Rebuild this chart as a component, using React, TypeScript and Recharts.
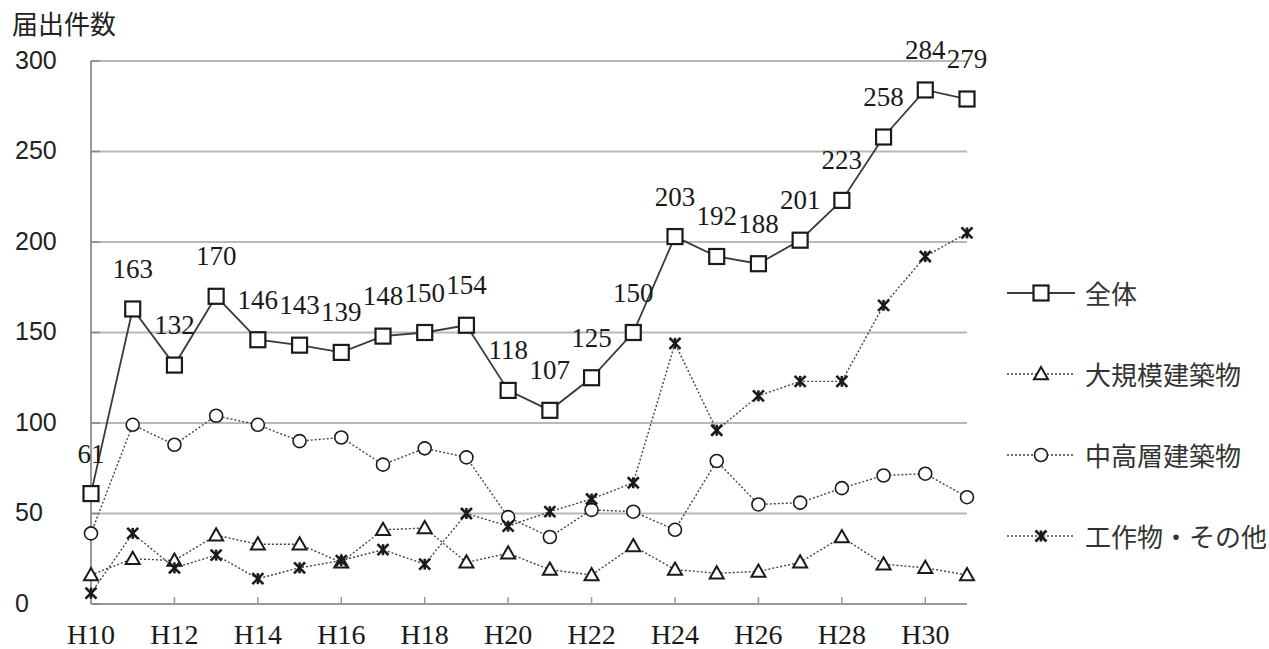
import { LineChart, Line, XAxis, YAxis, CartesianGrid, LabelList } from 'recharts'

const years = [
  'H10', 'H11', 'H12', 'H13', 'H14', 'H15', 'H16', 'H17', 'H18', 'H19', 'H20',
  'H21', 'H22', 'H23', 'H24', 'H25', 'H26', 'H27', 'H28', 'H29', 'H30', 'H31',
]
// 全体
const total = [61, 163, 132, 170, 146, 143, 139, 148, 150, 154, 118, 107, 125, 150, 203, 192, 188, 201, 223, 258, 284, 279]
// 大規模建築物
const large = [16, 25, 24, 38, 33, 33, 23, 41, 42, 23, 28, 19, 16, 32, 19, 17, 18, 23, 37, 22, 20, 16]
// 中高層建築物
const mid = [39, 99, 88, 104, 99, 90, 92, 77, 86, 81, 48, 37, 52, 51, 41, 79, 55, 56, 64, 71, 72, 59]
// 工作物・その他
const other = [6, 39, 20, 27, 14, 20, 24, 30, 22, 50, 43, 51, 58, 67, 144, 96, 115, 123, 123, 165, 192, 205]
const yTicks = [0, 50, 100, 150, 200, 250, 300]

const data = years.map((year, i) => ({
  year,
  total: total[i],
  large: large[i],
  mid: mid[i],
  other: other[i],
}))

const SERIF = '"Liberation Serif", "DejaVu Serif", serif'
const SANS_NUM = '"Liberation Sans", Arial, sans-serif'
const SANS = '"Noto Sans CJK JP", "Noto Sans", sans-serif'
const INK = '#1a1a1a'
const LINE = '#3a3a3a'
const DOTTED = '#444'

function SquareDot({ cx, cy }: any) {
  if (cx == null || cy == null) return null
  return <rect x={cx - 7.5} y={cy - 7.5} width={15} height={15} fill="#fff" stroke={INK} strokeWidth={2.2} />
}

function TriangleDot({ cx, cy }: any) {
  if (cx == null || cy == null) return null
  const s = 7
  return (
    <path
      d={`M${cx},${cy - s} L${cx + s},${cy + s * 0.75} L${cx - s},${cy + s * 0.75} Z`}
      fill="#fff"
      stroke={INK}
      strokeWidth={2}
    />
  )
}

function CircleDot({ cx, cy }: any) {
  if (cx == null || cy == null) return null
  return <circle cx={cx} cy={cy} r={6.5} fill="#fff" stroke={INK} strokeWidth={1.6} />
}

function StarDot({ cx, cy }: any) {
  if (cx == null || cy == null) return null
  const s = 5.5
  return (
    <g stroke={INK} strokeWidth={2.6}>
      <line x1={cx - s} y1={cy - s} x2={cx + s} y2={cy + s} />
      <line x1={cx - s} y1={cy + s} x2={cx + s} y2={cy - s} />
      <line x1={cx} y1={cy - s} x2={cx} y2={cy + s} />
    </g>
  )
}

function YTick({ y, payload }: any) {
  return (
    <text x={15} y={y} dy="0.3em" fontFamily={SANS_NUM} fontSize={25} fill="#222">
      {payload.value}
    </text>
  )
}

function XTick({ x, y, payload }: any) {
  return (
    <text x={x} y={y} dy="0.71em" textAnchor="middle" fontFamily={SERIF} fontSize={28} fill={INK}>
      {payload.value}
    </text>
  )
}

const legendItems = [
  { name: '全体', Dot: SquareDot, dash: undefined, width: 1.8 },
  { name: '大規模建築物', Dot: TriangleDot, dash: '2 2', width: 1.4 },
  { name: '中高層建築物', Dot: CircleDot, dash: '2 2', width: 1.4 },
  { name: '工作物・その他', Dot: StarDot, dash: '2 2', width: 1.4 },
]

export default function App() {
  return (
    <div style={{ position: 'absolute', left: 0, top: 0, width: 1269, height: 649, background: '#fff' }}>
      <div
        style={{
          position: 'absolute',
          left: 12,
          top: 10,
          fontFamily: SANS,
          fontSize: 26,
          lineHeight: 1,
          color: '#222',
        }}
      >
        届出件数
      </div>

      <LineChart width={1269} height={649} data={data} margin={{ top: 61, right: 302, bottom: 0, left: 0 }}>
        <CartesianGrid vertical={false} stroke="#b8b8b8" strokeWidth={2} />
        <XAxis
          dataKey="year"
          interval={1}
          height={45}
          tickSize={-7}
          tickMargin={27}
          tick={<XTick />}
          axisLine={{ stroke: '#999', strokeWidth: 2 }}
          tickLine={{ stroke: '#999', strokeWidth: 1.5 }}
        />
        <YAxis
          domain={[0, 300]}
          ticks={yTicks}
          width={91}
          tickSize={-9}
          tick={<YTick />}
          axisLine={{ stroke: '#999', strokeWidth: 2 }}
          tickLine={{ stroke: '#888', strokeWidth: 1.5 }}
        />
        <Line
          dataKey="large"
          stroke={DOTTED}
          strokeWidth={1.4}
          strokeDasharray="2 2"
          dot={(p: any) => <TriangleDot key={p.index} cx={p.cx} cy={p.cy} />}
          isAnimationActive={false}
        />
        <Line
          dataKey="mid"
          stroke={DOTTED}
          strokeWidth={1.4}
          strokeDasharray="2 2"
          dot={(p: any) => <CircleDot key={p.index} cx={p.cx} cy={p.cy} />}
          isAnimationActive={false}
        />
        <Line
          dataKey="other"
          stroke={DOTTED}
          strokeWidth={1.4}
          strokeDasharray="2 2"
          dot={(p: any) => <StarDot key={p.index} cx={p.cx} cy={p.cy} />}
          isAnimationActive={false}
        />
        <Line
          dataKey="total"
          stroke={LINE}
          strokeWidth={1.8}
          dot={(p: any) => <SquareDot key={p.index} cx={p.cx} cy={p.cy} />}
          isAnimationActive={false}
        >
          <LabelList dataKey="total" position="top" offset={31} fontFamily={SERIF} fontSize={27} fill={INK} />
        </Line>
      </LineChart>

      <div style={{ position: 'absolute', left: 1007, top: 252 }}>
        {legendItems.map(({ name, Dot, dash, width }) => (
          <div key={name} style={{ display: 'flex', alignItems: 'center', height: 81 }}>
            <svg width={70} height={24}>
              <line x1={0} y1={12} x2={68} y2={12} stroke={dash ? DOTTED : LINE} strokeWidth={width} strokeDasharray={dash} />
              <Dot cx={34} cy={12} />
            </svg>
            <span style={{ marginLeft: 8, fontFamily: SANS, fontSize: 26, color: '#333', lineHeight: 1 }}>{name}</span>
          </div>
        ))}
      </div>
    </div>
  )
}
